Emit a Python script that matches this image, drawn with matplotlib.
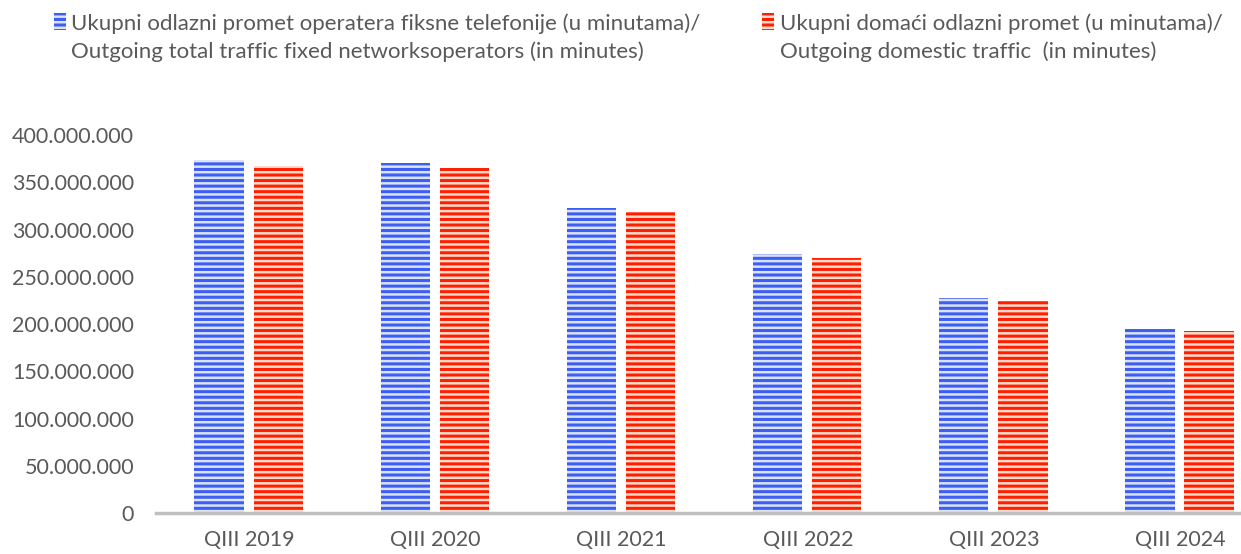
import matplotlib.pyplot as plt
import numpy as np
from matplotlib.ticker import FuncFormatter

plt.rcParams['font.family'] = ['Lato', 'DejaVu Sans']
plt.rcParams['hatch.linewidth'] = 2.2

quarters = ['QIII 2019', 'QIII 2020', 'QIII 2021', 'QIII 2022', 'QIII 2023', 'QIII 2024']
total_out = [373.5e6, 370.7e6, 322.4e6, 273.8e6, 227.8e6, 194.7e6]
domestic_out = [367.2e6, 365.0e6, 318.8e6, 269.5e6, 224.3e6, 192.9e6]
labels = ['Ukupni odlazni promet operatera fiksne telefonije (u minutama)/\nOutgoing total traffic fixed networksoperators (in minutes)',
          'Ukupni domaći odlazni promet (u minutama)/\nOutgoing domestic traffic  (in minutes)']

txt = '#595959'
fig = plt.figure(figsize=(12.41, 5.54), dpi=100)
ax = fig.add_axes([0.126, 0.074, 0.9, 0.682])

x = np.arange(len(quarters))
w = 0.265
b1 = ax.bar(x - 0.163, total_out, w, facecolor='#dbe3f8', edgecolor='#3d5ef2', lw=0, hatch='---', label=labels[0])
b2 = ax.bar(x + 0.155, domestic_out, w, facecolor='#fddccd', edgecolor='#ff1f00', lw=0, hatch='---', label=labels[1])

ax.set_ylim(0, 400e6)
ax.set_xlim(-0.5, 5.5)
ax.set_yticks(np.arange(0, 400e6 + 1, 50e6))
ax.yaxis.set_major_formatter(FuncFormatter(lambda v, p: f'{v:,.0f}'.replace(',', '.')))
ax.set_xticks(x)
ax.set_xticklabels(quarters)
ax.tick_params(length=0, labelsize=15.5, colors=txt)
ax.tick_params(axis='x', pad=12)
ax.tick_params(axis='y', pad=16)
for s in ['top', 'right', 'left']:
    ax.spines[s].set_visible(False)
ax.spines['bottom'].set_color('#bfbfbf')
ax.spines['bottom'].set_linewidth(2.5)

# one legend per entry so each can sit where the original puts it
for bar, lab, xpos in [(b1, labels[0], 0.027), (b2, labels[1], 0.598)]:
    leg = fig.legend(handles=[bar], labels=[lab], loc='upper left', bbox_to_anchor=(xpos, 1.012),
                     frameon=False, fontsize=16, labelcolor=txt, labelspacing=0,
                     handlelength=0.55, handleheight=0.75, handletextpad=0.25)
    for t in leg.get_texts():
        t.set_linespacing(1.45)
    for item in leg._legend_handle_box.get_children()[0].get_children():
        item.align = 'top'

fig.savefig('out.png', dpi=100)
